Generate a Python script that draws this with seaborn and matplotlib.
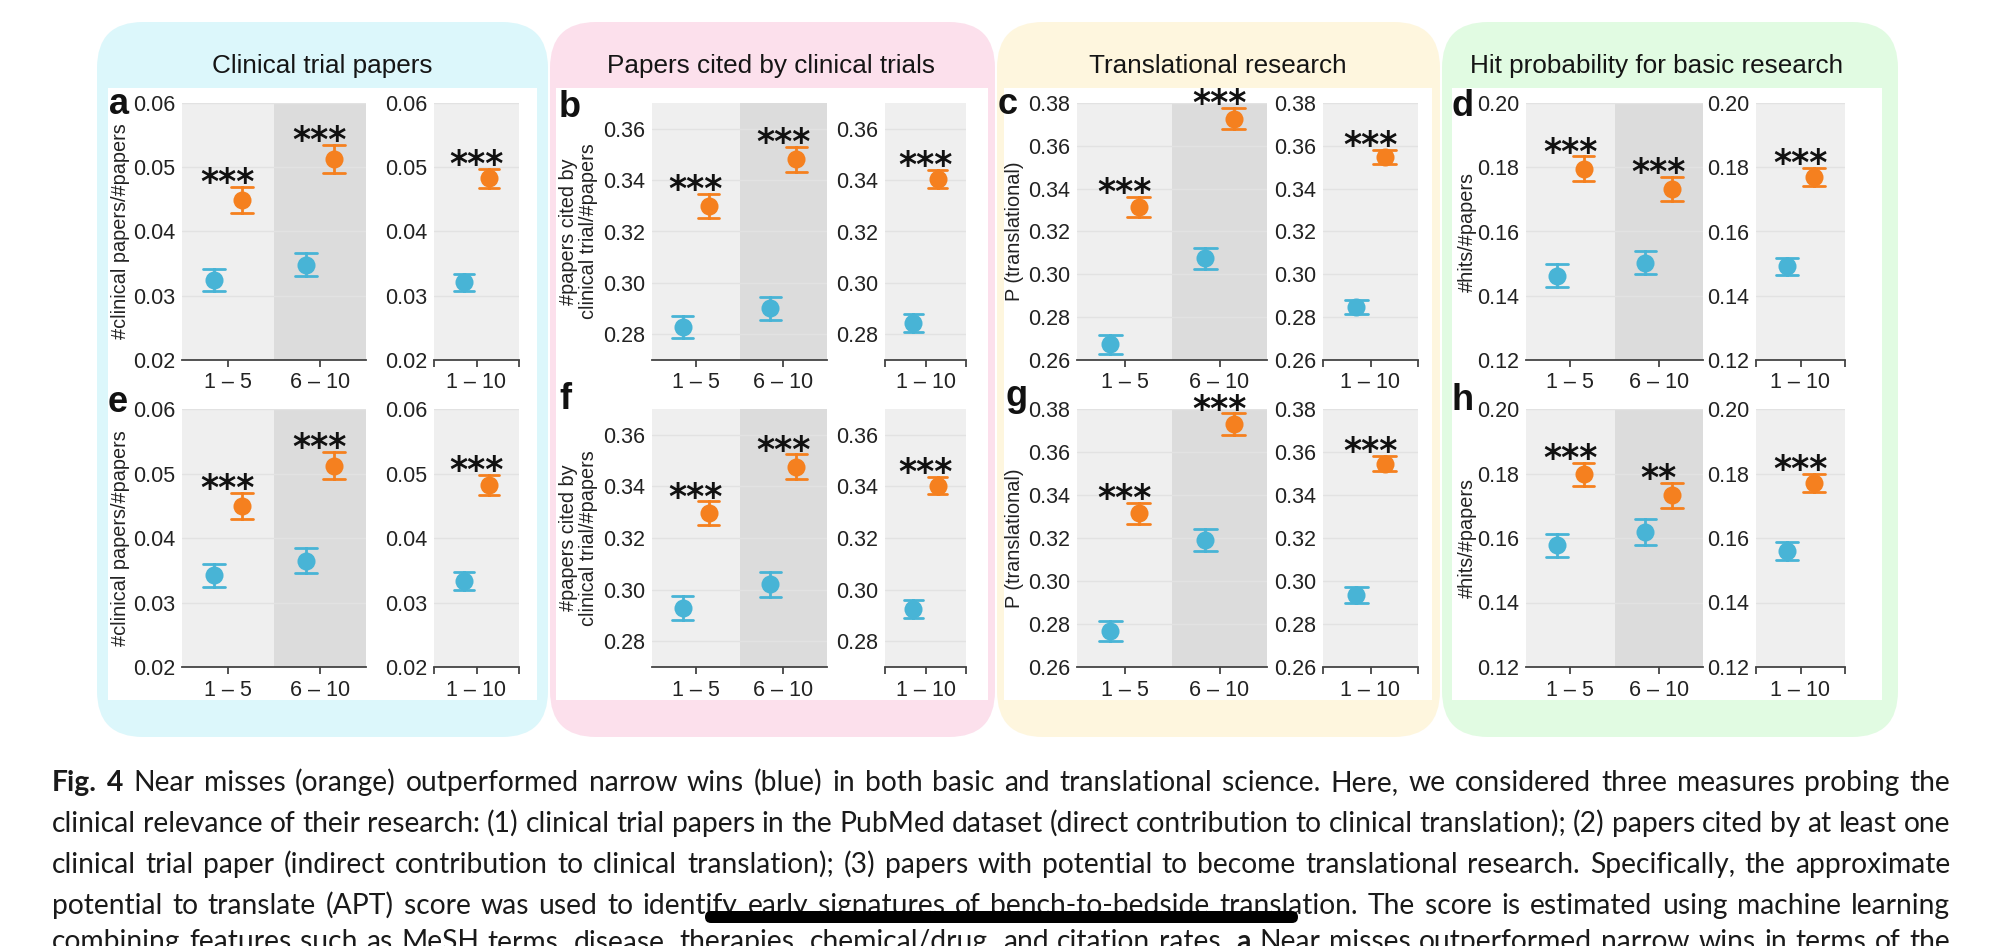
"""
Near misses vs narrow wins: clinical relevance measures (Fig. 4 style).
"""

import numpy as np
import pandas as pd
import matplotlib.pyplot as plt
import seaborn as sns
from matplotlib.patches import FancyBboxPatch, Rectangle

# ── data ─────────────────────────────────────────────────────────
groups = ["1 – 5", "6 – 10"]
pooled = ["1 – 10"]
hue_order = ["narrow win", "near miss"]

# values per group: [1-5, 6-10, 1-10]
a_win = [0.0325, 0.0348, 0.0321]
a_win_err = [0.0017, 0.0018, 0.0013]
a_miss = [0.0449, 0.0513, 0.0483]
a_miss_err = [0.0020, 0.0022, 0.0015]
a_stars = ["***", "***", "***"]

b_win = [0.2828, 0.2901, 0.2845]
b_win_err = [0.0043, 0.0045, 0.0035]
b_miss = [0.3299, 0.3481, 0.3404]
b_miss_err = [0.0046, 0.0048, 0.0035]
b_stars = ["***", "***", "***"]

c_win = [0.2673, 0.3074, 0.2847]
c_win_err = [0.0043, 0.0048, 0.0032]
c_miss = [0.3315, 0.3727, 0.3547]
c_miss_err = [0.0047, 0.0049, 0.0034]
c_stars = ["***", "***", "***"]

d_win = [0.1463, 0.1503, 0.1492]
d_win_err = [0.0035, 0.0036, 0.0027]
d_miss = [0.1796, 0.1733, 0.1770]
d_miss_err = [0.0038, 0.0038, 0.0027]
d_stars = ["***", "***", "***"]

e_win = [0.0342, 0.0365, 0.0333]
e_win_err = [0.0018, 0.0019, 0.0014]
e_miss = [0.0450, 0.0512, 0.0482]
e_miss_err = [0.0020, 0.0021, 0.0016]
e_stars = ["***", "***", "***"]

f_win = [0.2929, 0.3021, 0.2925]
f_win_err = [0.0045, 0.0048, 0.0034]
f_miss = [0.3297, 0.3477, 0.3403]
f_miss_err = [0.0045, 0.0047, 0.0034]
f_stars = ["***", "***", "***"]

g_win = [0.2768, 0.3192, 0.2935]
g_win_err = [0.0047, 0.0052, 0.0036]
g_miss = [0.3314, 0.3730, 0.3546]
g_miss_err = [0.0048, 0.0050, 0.0035]
g_stars = ["***", "***", "***"]

h_win = [0.1577, 0.1618, 0.1561]
h_win_err = [0.0036, 0.0040, 0.0028]
h_miss = [0.1797, 0.1733, 0.1771]
h_miss_err = [0.0037, 0.0039, 0.0029]
h_stars = ["***", "**", "***"]

titles = ["Clinical trial papers", "Papers cited by clinical trials",
          "Translational research", "Hit probability for basic research"]
ylabels = ["#clinical papers/#papers", "#papers cited by\nclinical trial/#papers",
           "P (translational)", "#hits/#papers"]
ylims = [(0.02, 0.06), (0.27, 0.37), (0.26, 0.38), (0.12, 0.20)]
yticks = [[0.02, 0.03, 0.04, 0.05, 0.06],
          [0.28, 0.30, 0.32, 0.34, 0.36],
          [0.26, 0.28, 0.30, 0.32, 0.34, 0.36, 0.38],
          [0.12, 0.14, 0.16, 0.18, 0.20]]

caption_lines = [
    "Fig. 4 Near misses (orange) outperformed narrow wins (blue) in both basic and translational science. Here, we considered three measures probing the",
    "clinical relevance of their research: (1) clinical trial papers in the PubMed dataset (direct contribution to clinical translation); (2) papers cited by at least one",
    "clinical trial paper (indirect contribution to clinical translation); (3) papers with potential to become translational research. Specifically, the approximate",
    "potential to translate (APT) score was used to identify early signatures of bench-to-bedside translation. The score is estimated using machine learning",
    "combining features such as MeSH terms, disease, therapies, chemical/drug, and citation rates. a Near misses outperformed narrow wins in terms of the",
]

panels = [
    ("a", a_win, a_win_err, a_miss, a_miss_err, a_stars),
    ("b", b_win, b_win_err, b_miss, b_miss_err, b_stars),
    ("c", c_win, c_win_err, c_miss, c_miss_err, c_stars),
    ("d", d_win, d_win_err, d_miss, d_miss_err, d_stars),
    ("e", e_win, e_win_err, e_miss, e_miss_err, e_stars),
    ("f", f_win, f_win_err, f_miss, f_miss_err, f_stars),
    ("g", g_win, g_win_err, g_miss, g_miss_err, g_stars),
    ("h", h_win, h_win_err, h_miss, h_miss_err, h_stars),
]

BLUE = "#48b4d6"
ORANGE = "#f5801f"
BOX_COLORS = ["#dcf7fb", "#fce0ec", "#fef6de", "#e1fbe2"]
SHADES = ["#efefef", "#dcdcdc"]
FS = 15.5
YLAB_FS = 14.3

# ── layout (pixels of the 2000 x 946 canvas) ─────────────────────
W, H = 2000, 946
box_x = [(97, 548), (550, 995), (997, 1440), (1442, 1898)]
white_x = [(108, 537), (556, 988), (1004, 1432), (1452, 1882)]
title_x = [322, 771, 1218, 1657]
left_x = [(182, 366), (652, 827), (1077, 1267), (1526, 1703)]
right_x = [(434, 519), (885, 966), (1323, 1418), (1756, 1845)]
rows_y = [(103, 360), (409, 667)]
label_xy = {"a": (119, 114), "b": (570, 117), "c": (1008, 114), "d": (1463, 116),
            "e": (118, 412), "f": (565, 409), "g": (1017, 406), "h": (1463, 410)}
# right edge of each rotated y label, in axes fraction
ylabel_x = [-0.28, -0.31, -0.28, -0.275]

sns.set_style("white")
plt.rcParams["font.family"] = ["Liberation Sans", "DejaVu Sans"]

fig = plt.figure(figsize=(W / 100, H / 100), dpi=100)

# background canvas in pixel units
bg = fig.add_axes([0, 0, 1, 1])
bg.set_xlim(0, W)
bg.set_ylim(H, 0)
bg.axis("off")

for (x0, x1), (w0, w1), col, tx, title in zip(box_x, white_x, BOX_COLORS, title_x, titles):
    bg.add_patch(FancyBboxPatch((x0, 22), x1 - x0, 715, boxstyle="round,pad=0,rounding_size=46",
                                fc=col, ec="none"))
    bg.add_patch(Rectangle((w0, 88), w1 - w0, 612, fc="white", ec="none"))
    bg.text(tx, 66, title, ha="center", va="center", fontsize=18.8, color="#151515")


def px_axes(x0, x1, y0, y1):
    return fig.add_axes([x0 / W, 1 - y1 / H, (x1 - x0) / W, (y1 - y0) / H])


def draw(ax, cats, win, win_err, miss, miss_err, stars):
    rows = []
    for c, m, e in zip(cats, win, win_err):
        rows += [(c, "narrow win", m - e), (c, "narrow win", m + e)]
    for c, m, e in zip(cats, miss, miss_err):
        rows += [(c, "near miss", m - e), (c, "near miss", m + e)]
    df = pd.DataFrame(rows, columns=["group", "outcome", "value"])
    sns.pointplot(data=df, x="group", y="value", hue="outcome", order=cats,
                  hue_order=hue_order, palette=[BLUE, ORANGE], estimator="mean",
                  errorbar=lambda v: (v.min(), v.max()), dodge=0.3, capsize=0.24,
                  linestyle="none", marker="o", markersize=13, markeredgewidth=0,
                  err_kws={"linewidth": 2}, legend=False, ax=ax)
    for i, (m, e, s) in enumerate(zip(miss, miss_err, stars)):
        ax.annotate(s, xy=(i, m + e), xytext=(0, -4.5), textcoords="offset points",
                    ha="center", va="baseline", fontsize=25, fontweight="bold",
                    family="DejaVu Sans", color="#111111", annotation_clip=False)


def style(ax, col, ncat, shades):
    ax.set_xlim(-0.5, ncat - 0.5)
    for i in range(ncat):
        ax.axvspan(i - 0.5, i + 0.5, color=shades[i], zorder=0, lw=0)
    ax.set_ylim(*ylims[col])
    ax.set_yticks(yticks[col])
    ax.set_yticklabels([f"{t:.2f}" for t in yticks[col]])
    ax.set_axisbelow(True)
    ax.grid(axis="y", color="#e2e2e2", lw=1)
    ax.grid(axis="x", visible=False)
    for s in ["top", "right", "left"]:
        ax.spines[s].set_visible(False)
    ax.spines["bottom"].set_color("#444444")
    ax.spines["bottom"].set_linewidth(1.3)
    ax.tick_params(axis="y", length=0, pad=5, labelsize=FS, labelcolor="#222222")
    ax.tick_params(axis="x", length=5, width=1.3, color="#444444", pad=4,
                   labelsize=FS, labelcolor="#222222", bottom=True)
    ax.set_xlabel("")
    ax.set_ylabel("")
    ax.patch.set_alpha(0)


for k, (letter, win, win_err, miss, miss_err, stars) in enumerate(panels):
    row, col = divmod(k, 4)
    y0, y1 = rows_y[row]

    axl = px_axes(*left_x[col], y0, y1)
    draw(axl, groups, win[:2], win_err[:2], miss[:2], miss_err[:2], stars[:2])
    style(axl, col, 2, SHADES)
    axl.set_xticks([0, 1], groups)
    axl.set_ylabel(ylabels[col], fontsize=YLAB_FS, color="#222222", linespacing=1.05)
    axl.yaxis.set_label_coords(ylabel_x[col], 0.5)

    axr = px_axes(*right_x[col], y0, y1)
    draw(axr, pooled, win[2:], win_err[2:], miss[2:], miss_err[2:], stars[2:])
    style(axr, col, 1, SHADES)
    axr.set_xticks([-0.5, 0, 0.5], ["", pooled[0], ""])

    lx, ly = label_xy[letter]
    bg.text(lx, ly, letter, ha="center", va="baseline", fontsize=26,
            fontweight="bold", color="#111111")

# ── caption, justified word by word ──────────────────────────────
renderer = fig.canvas.get_renderer()
cap_x0, cap_x1 = 52, 1950
baselines = [791, 832, 873, 914, 950]
for li, (line, yb) in enumerate(zip(caption_lines, baselines)):
    words = line.split(" ")
    bold = set()
    if li == 0:
        bold = {0, 1}
    if li == 4:
        bold = {words.index("rates.") + 1}
    texts = []
    for wi, w in enumerate(words):
        t = bg.text(0, yb, w, ha="left", va="baseline", fontsize=20.3, family="Lato",
                    fontweight="bold" if wi in bold else "normal", color="#1a1a1a")
        texts.append(t)
    widths = [t.get_window_extent(renderer).width for t in texts]
    gap = (cap_x1 - cap_x0 - sum(widths)) / (len(words) - 1)
    x = cap_x0
    for t, w in zip(texts, widths):
        t.set_x(x)
        x += w + gap

bg.add_patch(FancyBboxPatch((705, 911), 593, 12, boxstyle="round,pad=0,rounding_size=6",
                            fc="black", ec="none", zorder=5))

fig.savefig("out.png", dpi=100)
